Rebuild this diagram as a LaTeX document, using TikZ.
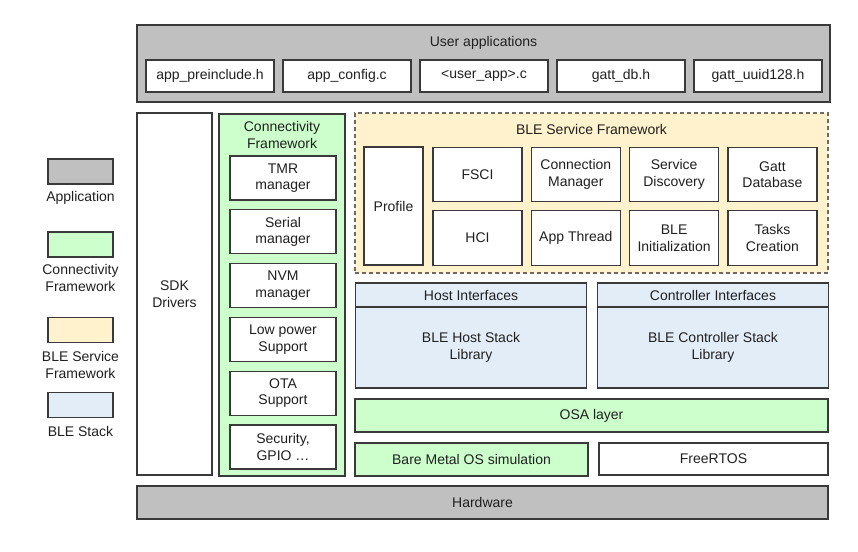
\documentclass[tikz,border=0pt]{standalone}
\usepackage{fontspec}
\setmainfont{Liberation Sans}
\usetikzlibrary{positioning}

\definecolor{appgray}{HTML}{C0C0C0}
\definecolor{cfgreen}{HTML}{CCFFCC}
\definecolor{bleyellow}{HTML}{FFF2CC}
\definecolor{stackblue}{HTML}{E3EDF8}
\definecolor{edgegray}{HTML}{3A3A3A}
\definecolor{dashgray}{HTML}{6E6A60}
\definecolor{textgray}{HTML}{202020}

\begin{document}
\begin{tikzpicture}[x=1pt, y=-1pt,
  every node/.style={font=\fontsize{14}{16.5}\selectfont, text=textgray, align=center},
  blk/.style={draw=edgegray, line width=1.2pt, inner sep=0pt, outer sep=0pt},
  sz/.style 2 args={minimum width=#1, minimum height=#2}]
  \useasboundingbox (0,0) rectangle (858,551);

  % User applications
  \node[blk, fill=appgray, sz={693}{77}] (userapp) at (483.5,63.5) {};
  \node (userlab) at (483.5,43) {User applications};
  \foreach \i/\nm/\txt in {0/pre/app\_preinclude.h, 1/cfg/app\_config.c,
      2/usr/{<user\_app>.c}, 3/db/gatt\_db.h, 4/uuid/gatt\_uuid128.h}
    \node[blk, fill=white, sz={128}{32}] (f-\nm) at (210+137*\i, 76) {\txt};

  % SDK drivers
  \node[blk, fill=white, sz={75}{362}] (sdk) at (174.5,294) {SDK\\Drivers};

  % Connectivity Framework
  \node[blk, fill=cfgreen, sz={126}{362}] (connfw) at (282,295) {};
  \node (connlab) at (282,135) {Connectivity\\Framework};
  \foreach \k/\nm/\txt in {0/tmr/{TMR\\manager}, 1/serial/{Serial\\manager},
      2/nvm/{NVM\\manager}, 3/lp/{Low power\\Support}, 4/ota/{OTA\\Support},
      5/sec/{Security,\\GPIO \dots}}
    \node[blk, fill=white, sz={106}{44}] (cf-\nm) at (283, 178+53.8*\k) {\txt};

  % BLE Service Framework
  \node[blk, draw=dashgray, dash pattern=on 4pt off 3pt, fill=bleyellow,
    sz={473}{160}] (blesf) at (591.5,193) {};
  \node (blesflab) at (591.5,129) {BLE Service Framework};
  \node[blk, fill=white, sz={59}{118}] (profile) at (393.5,206) {Profile};
  \foreach \c/\r/\nm/\txt in {0/0/fsci/FSCI, 0/1/hci/HCI,
      1/0/conn/{Connection\\Manager}, 1/1/thread/App Thread,
      2/0/disc/{Service\\Discovery}, 2/1/init/{BLE\\Initialization},
      3/0/gatt/{Gatt\\Database}, 3/1/tasks/{Tasks\\Creation}}
    \node[blk, fill=white, sz={89}{54.5}] (sf-\nm) at (477.5+98.3*\c, 174.5+63.5*\r) {\txt};

  % BLE Stack
  \foreach \x/\nm/\hd/\bd in {471/host/Host Interfaces/{BLE Host Stack\\Library},
      713/ctrl/Controller Interfaces/{BLE Controller Stack\\Library}} {
    \node[blk, fill=stackblue, sz={231}{24}] (\nm-if) at (\x,295) {\hd};
    \node[blk, fill=stackblue, sz={231}{81}, below=0pt of \nm-if] (\nm-lib) {\bd};
  }

  % OS layer
  \node[blk, fill=cfgreen, sz={473}{33}] (osa) at (591.5,415.5) {OSA layer};
  \node[blk, fill=cfgreen, sz={233}{33}] (baremetal) at (471.5,459.5) {Bare Metal OS simulation};
  \node[blk, fill=white, sz={229}{32}] (freertos) at (713.5,459) {FreeRTOS};

  % Hardware
  \node[blk, fill=appgray, sz={691}{33}] (hw) at (482.5,502.5) {Hardware};

  % Legend
  \foreach \y/\col/\nm/\ty/\txt in {171.5/appgray/app/198/Application,
      244.5/cfgreen/cf/278/{Connectivity\\Framework},
      330/bleyellow/sf/365/{BLE Service\\Framework},
      405/stackblue/stack/431/BLE Stack} {
    \node[blk, fill=\col, sz={65}{25}] (leg-\nm) at (80.5,\y) {};
    \node (legtxt-\nm) at (80.5,\ty) {\txt};
  }
\end{tikzpicture}
\end{document}
